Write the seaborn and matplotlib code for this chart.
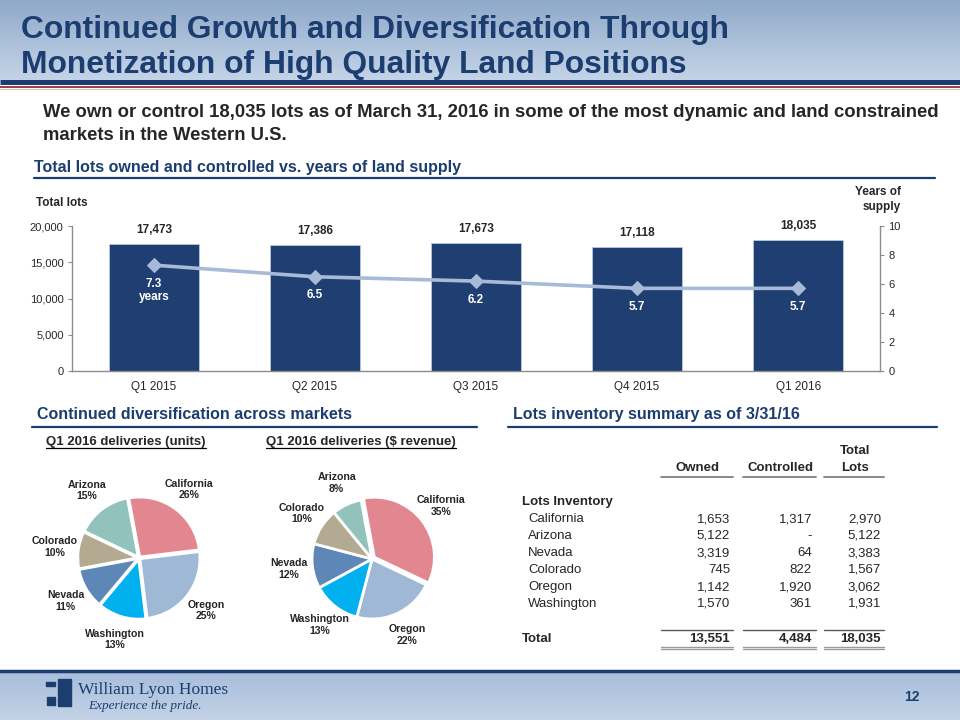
import numpy as np
import matplotlib
matplotlib.use("Agg")
import matplotlib.pyplot as plt
from matplotlib.patches import Rectangle
import seaborn as sns

sns.set_style("white")
plt.rcParams['font.family'] = ['Liberation Sans', 'DejaVu Sans']

# ---- data ----
quarters = ["Q1 2015", "Q2 2015", "Q3 2015", "Q4 2015", "Q1 2016"]
total_lots = [17473, 17386, 17673, 17118, 18035]
years_supply = [7.3, 6.5, 6.2, 5.7, 5.7]

pie_states = ["California", "Oregon", "Washington", "Nevada", "Colorado", "Arizona"]
units_pct = [26, 25, 13, 11, 10, 15]
revenue_pct = [35, 22, 13, 12, 10, 8]

inv_markets = ["California", "Arizona", "Nevada", "Colorado", "Oregon", "Washington"]
inv_owned = [1653, 5122, 3319, 745, 1142, 1570]
inv_controlled = [1317, 0, 64, 822, 1920, 361]
inv_total = [2970, 5122, 3383, 1567, 3062, 1931]
totals_row = [13551, 4484, 18035]

NAVY = "#1c3d70"
BAR = "#1f3e72"
LINE = "#a7bbd8"
GREY = "#8c8c8c"
pie_colors = ["#e2878f", "#9fb8d6", "#00b0ef", "#5d87b7", "#b3ab91", "#92c2bc"]

W, H = 960, 720
fig = plt.figure(figsize=(9.6, 7.2), dpi=100)


def rect(x0, y0, x1, y1):
    # pixel box (top-left origin) -> figure fraction
    return [x0 / W, 1 - y1 / H, (x1 - x0) / W, (y1 - y0) / H]


# background layer in pixel coords
bg = fig.add_axes([0, 0, 1, 1], zorder=-5)
bg.set_xlim(0, W)
bg.set_ylim(H, 0)
bg.axis("off")

grad = np.linspace(0, 1, 100).reshape(-1, 1)
hdr = matplotlib.colors.LinearSegmentedColormap.from_list("hdr", ["#8fa9ca", "#c4d4e7"])
bg.imshow(grad, cmap=hdr, extent=(0, W, 80, 0), aspect="auto")
ftr = matplotlib.colors.LinearSegmentedColormap.from_list("ftr", ["#a8bedb", "#c3d2e6"])
bg.imshow(grad, cmap=ftr, extent=(0, W, H, 672), aspect="auto")
bg.set_xlim(0, W)
bg.set_ylim(H, 0)

bg.plot([0, W], [81.5, 81.5], color=NAVY, lw=3.6, solid_capstyle="butt")
bg.plot([0, W], [87, 87], color="#9a2a33", lw=1.3)
bg.plot([0, W], [89, 89], color="#c8c8c8", lw=0.8)
bg.plot([0, W], [671, 671], color=NAVY, lw=2.5)

bg.text(21, 38, "Continued Growth and Diversification Through", fontsize=22.9,
        fontweight="bold", color=NAVY, va="baseline")
bg.text(21, 73, "Monetization of High Quality Land Positions", fontsize=22.9,
        fontweight="bold", color=NAVY, va="baseline")

bg.text(43, 117, "We own or control 18,035 lots as of March 31, 2016 in some of the most "
        "dynamic and land constrained", fontsize=13.3, fontweight="bold", va="baseline")
bg.text(43, 140, "markets in the Western U.S.", fontsize=13.3, fontweight="bold", va="baseline")

# section headers
bg.text(34, 172, "Total lots owned and controlled vs. years of land supply", fontsize=11.5,
        fontweight="bold", color=NAVY, va="baseline")
bg.plot([34, 935], [177.5, 177.5], color=NAVY, lw=1.6)
bg.text(37, 419, "Continued diversification across markets", fontsize=11.5,
        fontweight="bold", color=NAVY, va="baseline")
bg.plot([32, 477], [426.5, 426.5], color=NAVY, lw=1.6)
bg.text(513, 419, "Lots inventory summary as of 3/31/16", fontsize=11.5,
        fontweight="bold", color=NAVY, va="baseline")
bg.plot([508, 937], [426.5, 426.5], color=NAVY, lw=1.6)

# ---- bar + line chart ----
ax = fig.add_axes(rect(72, 226, 880, 371))
ax.set_facecolor("none")
sns.barplot(x=quarters, y=total_lots, color=BAR, width=0.56, saturation=1,
            edgecolor="#b8c8de", linewidth=0.6, ax=ax)
ax.bar_label(ax.containers[0], labels=[f"{v:,}" for v in total_lots], padding=6,
             fontsize=8.5, fontweight="bold")
ax.set_ylim(0, 20000)
ax.set_yticks(range(0, 20001, 5000))
ax.set_yticklabels([f"{v:,}" for v in range(0, 20001, 5000)])
ax.tick_params(axis="y", length=3, width=0.8, color=GREY, labelsize=8, left=True, pad=3)
ax.tick_params(axis="x", length=0, labelsize=8.5, pad=7)
ax.set_xlabel("")
ax.set_ylabel("")
for s in ["top", "right"]:
    ax.spines[s].set_visible(False)
for s in ["left", "bottom"]:
    ax.spines[s].set_color(GREY)
    ax.spines[s].set_linewidth(1)

ax2 = ax.twinx()
sns.lineplot(x=np.arange(len(quarters)), y=years_supply, ax=ax2, color=LINE, lw=2.6,
             marker="D", markersize=7, markeredgecolor=LINE)
ax2.set_ylim(0, 10)
ax2.set_yticks(range(0, 11, 2))
ax2.tick_params(axis="y", length=3, width=0.8, color=GREY, labelsize=8, right=True, pad=3)
for s in ["top", "left", "bottom"]:
    ax2.spines[s].set_visible(False)
ax2.spines["right"].set_color(GREY)
ax2.spines["right"].set_linewidth(1)
for i, v in enumerate(years_supply):
    lbl = f"{v:.1f}" + ("\nyears" if i == 0 else "")
    ax2.annotate(lbl, (i, v), xytext=(0, -9), textcoords="offset points", ha="center",
                 va="top", color="white", fontsize=8.5, fontweight="bold", linespacing=1.15)

bg.text(36, 203, "Total lots", fontsize=8.5, fontweight="bold", va="center")
bg.text(901, 192, "Years of", fontsize=8.5, fontweight="bold", va="center", ha="right")
bg.text(901, 207, "supply", fontsize=8.5, fontweight="bold", va="center", ha="right")


# ---- pies ----
def draw_pie(cx, cy, values, explode, title, tx):
    pax = fig.add_axes(rect(cx - 90, cy - 90, cx + 90, cy + 90))
    labels = [f"{s}\n{v}%" for s, v in zip(pie_states, values)]
    pax.pie(values, labels=labels, colors=pie_colors, startangle=100.5, counterclock=False,
            explode=explode, labeldistance=1.4,
            wedgeprops=dict(edgecolor="white", linewidth=2),
            textprops=dict(fontsize=7.6, fontweight="bold", ha="center", va="center"))
    pax.set_xlim(-1.5, 1.5)
    pax.set_ylim(-1.5, 1.5)
    pax.set_aspect("equal")
    t = bg.text(tx, 442, title, fontsize=9.5, fontweight="bold", ha="center", va="center")
    return t


t1 = draw_pie(139, 558, units_pct, [0.02] * 6, "Q1 2016 deliveries (units)", 126)
t2 = draw_pie(372, 559, revenue_pct, [0.05, 0, 0, 0, 0, 0], "Q1 2016 deliveries ($ revenue)", 361)

# underline the pie titles
fig.canvas.draw()
inv = bg.transData.inverted()
for t in (t1, t2):
    bb = t.get_window_extent()
    (x0, _), (x1, _) = inv.transform([(bb.x0, bb.y0), (bb.x1, bb.y0)])
    bg.plot([x0, x1], [448, 448], color="black", lw=0.9)

# ---- inventory table ----
col_right = [730, 812, 881]
col_lines = [(661, 733), (743, 816), (824, 884)]
TFS = 9.5
bg.text(697, 468, "Owned", fontsize=TFS, fontweight="bold", ha="center", va="center")
bg.text(780, 468, "Controlled", fontsize=TFS, fontweight="bold", ha="center", va="center")
bg.text(855, 451, "Total", fontsize=TFS, fontweight="bold", ha="center", va="center")
bg.text(855, 468, "Lots", fontsize=TFS, fontweight="bold", ha="center", va="center")
for a, b in col_lines:
    bg.plot([a, b], [476.5, 476.5], color="#7f7f7f", lw=1.3)

bg.text(522, 502, "Lots Inventory", fontsize=TFS, fontweight="bold", va="center")
for r, name in enumerate(inv_markets):
    y = 519 + r * 17
    bg.text(528, y, name, fontsize=TFS, va="center")
    row = [inv_owned[r], inv_controlled[r], inv_total[r]]
    for x, v in zip(col_right, row):
        bg.text(x, y, f"{v:,}" if v else "-", fontsize=TFS, ha="right", va="center")

bg.text(522, 639, "Total", fontsize=TFS, fontweight="bold", va="center")
for x, v in zip(col_right, totals_row):
    bg.text(x, 639, f"{v:,}", fontsize=TFS, fontweight="bold", ha="right", va="center")
for a, b in col_lines:
    bg.plot([a, b], [629.5, 629.5], color="#595959", lw=1)
    bg.plot([a, b], [646.5, 646.5], color="#9a9a9a", lw=1)
    bg.plot([a, b], [649, 649], color="#9a9a9a", lw=1)

# ---- footer ----
bg.add_patch(Rectangle((58, 679), 13, 27, color=NAVY))
bg.add_patch(Rectangle((46, 682), 9, 4, color=NAVY))
bg.add_patch(Rectangle((47, 697), 8, 8, color=NAVY))
bg.text(78, 690, "William Lyon Homes", family="Liberation Serif", fontsize=12.5,
        color=NAVY, va="center")
bg.text(88, 706, "Experience the pride.", family="Liberation Serif", style="italic",
        fontsize=9.5, color=NAVY, va="center")
bg.text(912, 697, "12", fontsize=10, fontweight="bold", color=NAVY, ha="center", va="center")

fig.savefig("out.png", dpi=100)
